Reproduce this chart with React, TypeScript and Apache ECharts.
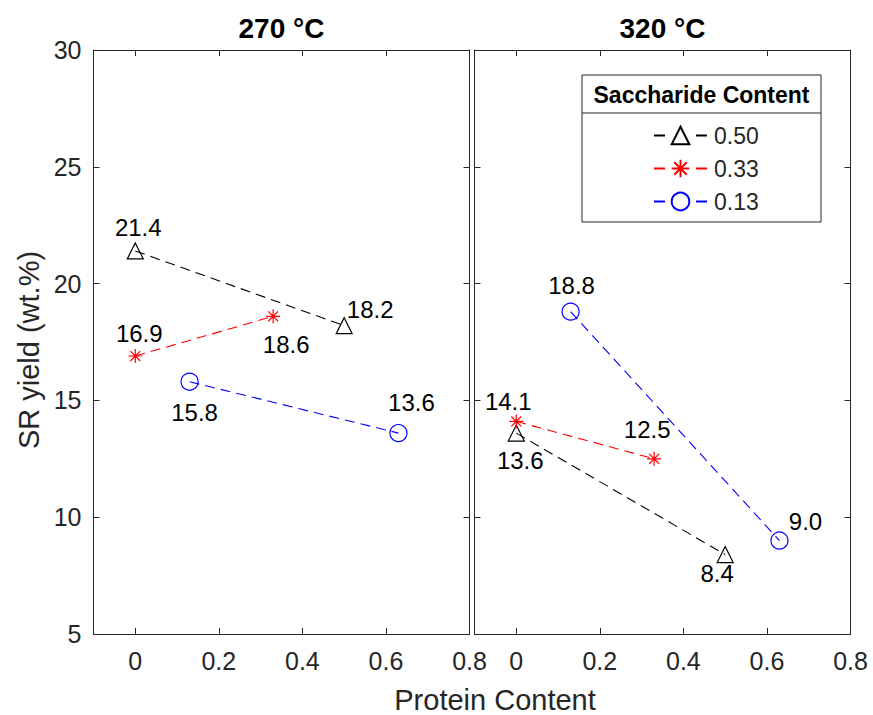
import React, { useEffect, useRef } from "react";
import * as echarts from "echarts";

// ---- data ----
const saccharideLevels = ["0.50", "0.33", "0.13"];
const protein050 = [0, 0.5];
const protein033 = [0, 0.33];
const protein013 = [0.13, 0.63];
const yield270_050 = [21.4, 18.2];
const yield270_033 = [16.9, 18.6];
const yield270_013 = [15.8, 13.6];
const yield320_050 = [13.6, 8.4];
const yield320_033 = [14.1, 12.5];
const yield320_013 = [18.8, 9.0];
const panelTitles = ["270 °C", "320 °C"];
const xTicks = [0, 0.2, 0.4, 0.6, 0.8];

// ---- styling (not data) ----
const FONT = "'Liberation Sans', Arial, Helvetica, sans-serif";
const AX = "#262626";
const colors = ["#000000", "#ff0000", "#0000ff"];
const ASTERISK = "path://M0,-10L0,10M-10,0L10,0M-7.07,-7.07L7.07,7.07M-7.07,7.07L7.07,-7.07";
const symbols = ["triangle", ASTERISK, "circle"];
const symbolSizes = [16, 14, 17];
// label offsets from marker centre [panel][level][point]
const labelOffsets = [
  [
    [[3, -23], [26, -16]],
    [[4, -23], [13, 28]],
    [[5, 31], [13, -31]],
  ],
  [
    [[4, 27], [-8, 19]],
    [[-8, -20], [-7, -29]],
    [[1, -26], [26, -19]],
  ],
];

const proteinByLevel = [protein050, protein033, protein013];
const yieldsByPanel = [
  [yield270_050, yield270_033, yield270_013],
  [yield320_050, yield320_033, yield320_013],
];

const grids = [
  { left: 93.5, top: 50, width: 376, height: 584 },
  { left: 474.5, top: 50, width: 376, height: 584 },
];

export default function App() {
  const ref = useRef<HTMLDivElement>(null);
  useEffect(() => {
    if (!ref.current) return;
    const chart = echarts.init(ref.current, null, { renderer: "svg" });

    const xAxes: any[] = [];
    const yAxes: any[] = [];
    grids.forEach((_, p) => {
      [false, true].forEach((mirror) => {
        xAxes.push({
          type: "value",
          gridIndex: p,
          position: mirror ? "top" : "bottom",
          min: -0.1,
          max: 0.8,
          axisLine: { show: true, onZero: false, lineStyle: { color: AX, width: 1 } },
          axisTick: {
            show: true,
            inside: true,
            length: 6,
            customValues: xTicks,
            lineStyle: { color: AX, width: 1 },
          },
          axisLabel: {
            show: !mirror,
            customValues: xTicks,
            fontSize: 25,
            fontFamily: FONT,
            color: AX,
            margin: 14,
            showMinLabel: true,
            showMaxLabel: true,
            formatter: (v: number) => String(Math.round(v * 10) / 10),
          },
          splitLine: { show: false },
        });
        yAxes.push({
          type: "value",
          gridIndex: p,
          position: mirror ? "right" : "left",
          min: 5,
          max: 30,
          interval: 5,
          axisLine: { show: true, onZero: false, lineStyle: { color: AX, width: 1 } },
          axisTick: { show: true, inside: true, length: 6, lineStyle: { color: AX, width: 1 } },
          axisLabel: {
            show: !mirror && p === 0,
            fontSize: 25,
            fontFamily: FONT,
            color: AX,
            margin: 12,
          },
          splitLine: { show: false },
        });
      });
    });

    const series: any[] = [];
    yieldsByPanel.forEach((levels, p) => {
      levels.forEach((ys, l) => {
        const xs = proteinByLevel[l];
        series.push({
          type: "line",
          name: saccharideLevels[l],
          xAxisIndex: p * 2,
          yAxisIndex: p * 2,
          data: xs.map((x, i) => ({
            value: [x, ys[i]],
            label: { offset: labelOffsets[p][l][i] },
          })),
          symbol: symbols[l],
          symbolSize: symbolSizes[l],
          showAllSymbol: true,
          lineStyle: { color: colors[l], width: 1.1, type: [10, 6] },
          itemStyle: { color: "rgba(255,255,255,0)", borderColor: colors[l], borderWidth: 1.2 },
          emphasis: { disabled: true },
          label: {
            show: true,
            position: "inside",
            align: "center",
            verticalAlign: "middle",
            fontSize: 24,
            fontFamily: FONT,
            color: "#000",
            formatter: (prm: any) => Number(prm.value[1]).toFixed(1),
          },
        });
      });
    });

    const graphic: any[] = [
      ...panelTitles.map((t, p) => ({
        type: "text",
        x: grids[p].left + grids[p].width / 2,
        y: 28,
        style: {
          text: t,
          font: `bold 28px ${FONT}`,
          fill: "#000",
          align: "center",
          verticalAlign: "middle",
          textAlign: "center",
          textVerticalAlign: "middle",
        },
      })),
      {
        type: "text",
        x: 495,
        y: 700,
        style: {
          text: "Protein Content",
          font: `29px ${FONT}`,
          fill: AX,
          align: "center",
          verticalAlign: "middle",
          textAlign: "center",
          textVerticalAlign: "middle",
        },
      },
      {
        type: "text",
        x: 29,
        y: 350,
        rotation: Math.PI / 2,
        style: {
          text: "SR yield (wt.%)",
          font: `29px ${FONT}`,
          fill: AX,
          align: "center",
          verticalAlign: "middle",
          textAlign: "center",
          textVerticalAlign: "middle",
        },
      },
      {
        type: "rect",
        z: 3,
        shape: { x: 582, y: 75, width: 239, height: 147 },
        style: { fill: "#fff", stroke: AX, lineWidth: 1 },
      },
      {
        type: "line",
        z: 4,
        shape: { x1: 582, y1: 113, x2: 821, y2: 113 },
        style: { stroke: AX, lineWidth: 1 },
      },
      {
        type: "text",
        z: 4,
        x: 701.5,
        y: 95,
        style: {
          text: "Saccharide Content",
          font: `bold 23px ${FONT}`,
          fill: "#000",
          align: "center",
          verticalAlign: "middle",
          textAlign: "center",
          textVerticalAlign: "middle",
        },
      },
    ];

    chart.setOption({
      animation: false,
      backgroundColor: "#fff",
      grid: grids.map((g) => ({ ...g, containLabel: false, outerBoundsMode: "none" })),
      xAxis: xAxes,
      yAxis: yAxes,
      legend: {
        data: saccharideLevels,
        orient: "vertical",
        left: 648,
        top: 119,
        itemWidth: 53,
        itemHeight: 22,
        itemGap: 10,
        z: 10,
        lineStyle: { type: [11, 31] },
        textStyle: { fontSize: 23, fontFamily: FONT, color: AX, lineHeight: 22, padding: [0, 0, 0, 2] },
      },
      graphic,
      series,
    });
    return () => chart.dispose();
  }, []);
  return (
    <div
      ref={ref}
      style={{ position: "fixed", left: 0, top: 0, width: 873, height: 715 }}
    />
  );
}
